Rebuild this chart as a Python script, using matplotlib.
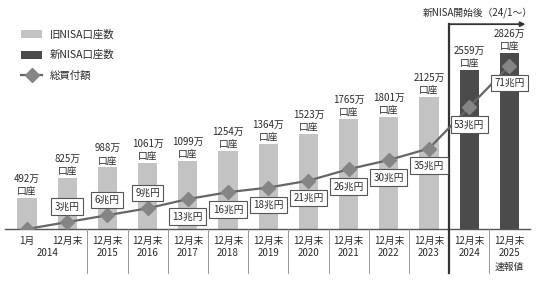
import numpy as np
import matplotlib
matplotlib.use("Agg")
from matplotlib import pyplot as plt
from matplotlib.transforms import blended_transform_factory

plt.rcParams["font.family"] = ["Noto Sans CJK JP", "DejaVu Sans"]

# data
months = ["1月", "12月末", "12月末", "12月末", "12月末", "12月末", "12月末",
          "12月末", "12月末", "12月末", "12月末", "12月末", "12月末"]
years = ["2014", "2015", "2016", "2017", "2018", "2019", "2020",
         "2021", "2022", "2023", "2024", "2025"]
accounts = [492, 825, 988, 1061, 1099, 1254, 1364, 1523, 1765, 1801, 2125, 2559, 2826]  # 万口座
is_new = [False] * 11 + [True] * 2
amount = [0, 3, 6, 9, 13, 16, 18, 21, 26, 30, 35, 53, 71]  # 兆円
label_above = [False, True, True, True] + [False] * 9

light = "#c3c3c3"
dark = "#4b4b4b"
txt = "#2a2a2a"
fs = 7

fig = plt.figure(figsize=(5.4, 2.84), dpi=100)
ax = fig.add_axes([0, 55 / 284, 1, 209 / 284])
x = np.arange(len(accounts))
xlim = (-27 / 40.2, (540 - 27) / 40.2)

old_idx = [i for i in x if not is_new[i]]
new_idx = [i for i in x if is_new[i]]
b1 = ax.bar(old_idx, [accounts[i] for i in old_idx], width=0.48, color=light, label="旧NISA口座数")
b2 = ax.bar(new_idx, [accounts[i] for i in new_idx], width=0.48, color=dark, label="新NISA口座数")
for i, v in enumerate(accounts):
    ax.annotate(f"{v}万\n口座", (i, v), xytext=(0, 1.5), textcoords="offset points",
                ha="center", va="bottom", fontsize=fs, color=txt, linespacing=1.25)
ax.set_xlim(xlim)
ax.set_ylim(0, 209 / 0.0623)
ax.axis("off")

ax2 = ax.twinx()
ln, = ax2.plot(x, amount, color="#666666", lw=1.6, marker="D", markersize=7,
               markerfacecolor="#858585", markeredgecolor="#858585", label="総買付額")
for i, v in enumerate(amount):
    if v == 0:
        continue
    dy = 11 if label_above[i] else -12.5
    ax2.annotate(f"{v}兆円", (i, v), xytext=(0, dy), textcoords="offset points",
                 ha="center", va="center", fontsize=fs, color=txt,
                 bbox=dict(boxstyle="square,pad=0.35", fc="white", ec="#555555", lw=0.8))
ax2.set_xlim(xlim)
ax2.set_ylim(0, 209 / 2.3)
ax2.axis("off")

trans = blended_transform_factory(ax.transData, ax.transAxes)
# baseline
ax.plot([-0.55, 12.5], [0, 0], color="#555555", lw=1.0, transform=trans, clip_on=False)
# separators under the axis
for s in np.arange(1.5, 12, 1.0):
    if s == 10.5:
        continue
    ax.plot([s, s], [0, -0.21], color="#888888", lw=0.6, transform=trans, clip_on=False)
# new NISA marker line with arrow
ax.plot([10.5, 10.5], [-0.21, 0.98], color="#333333", lw=1.6, transform=trans, clip_on=False)
ax.annotate("", xy=(12.4, 0.98), xytext=(10.5, 0.98), xycoords=trans, textcoords=trans,
            arrowprops=dict(arrowstyle="-|>", color="#333333", lw=1.3, mutation_scale=7,
                            shrinkA=0, shrinkB=0))
ax.text(11.2, 1.035, "新NISA開始後（24/1～）", transform=trans, ha="center", va="center",
        fontsize=fs, color=txt)

# category labels
for i, m in enumerate(months):
    ax.text(i, -0.057, m, transform=trans, ha="center", va="center", fontsize=fs, color=txt)
ax.text(0.5, -0.117, years[0], transform=trans, ha="center", va="center", fontsize=fs, color=txt)
for i, y in enumerate(years[1:]):
    ax.text(i + 2, -0.117, y, transform=trans, ha="center", va="center", fontsize=fs, color=txt)
ax.text(12, -0.18, "速報値", transform=trans, ha="center", va="center", fontsize=fs, color=txt)

fig.legend(handles=[b1, b2, ln], loc="upper left", bbox_to_anchor=(0.03, 0.915),
           frameon=False, fontsize=7.5, labelspacing=1.0, handlelength=2.0,
           handleheight=0.8, handletextpad=0.7, borderpad=0, labelcolor=txt)

fig.savefig("out.png", dpi=100)
